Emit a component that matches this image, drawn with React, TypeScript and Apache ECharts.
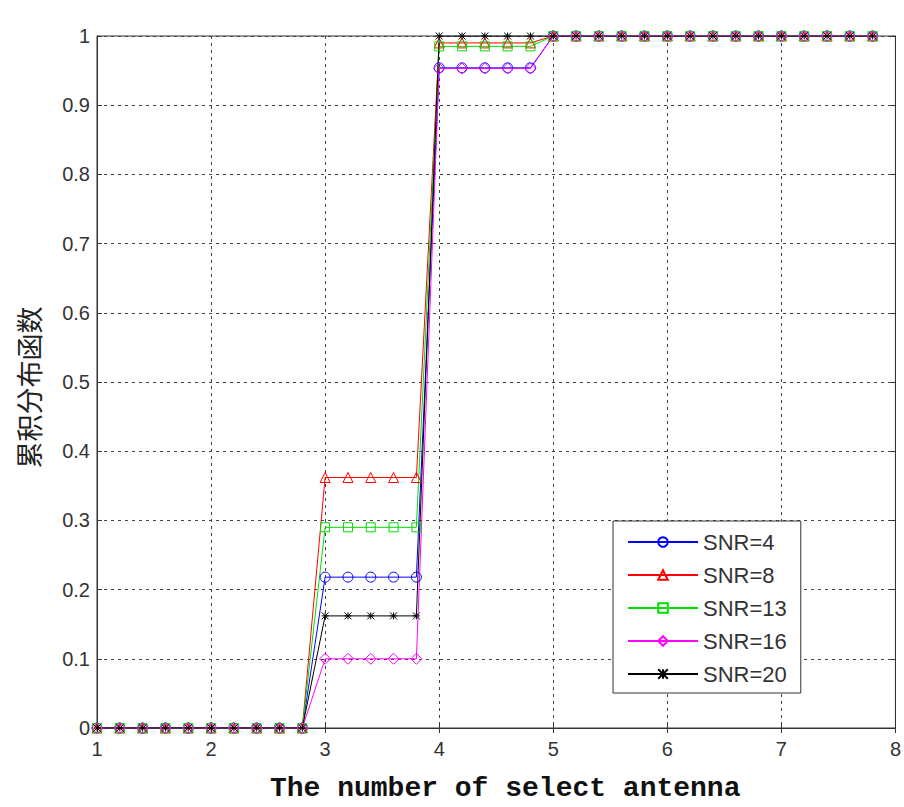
import React, { useEffect, useRef } from "react";
import * as echarts from "echarts";

const xValues = [
  1, 1.2, 1.4, 1.6, 1.8, 2, 2.2, 2.4, 2.6, 2.8,
  3, 3.2, 3.4, 3.6, 3.8,
  4, 4.2, 4.4, 4.6, 4.8,
  5, 5.2, 5.4, 5.6, 5.8, 6, 6.2, 6.4, 6.6, 6.8, 7, 7.2, 7.4, 7.6, 7.8,
];

const snr4 = [
  0, 0, 0, 0, 0, 0, 0, 0, 0, 0,
  0.218, 0.218, 0.218, 0.218, 0.218,
  0.954, 0.954, 0.954, 0.954, 0.954,
  1, 1, 1, 1, 1, 1, 1, 1, 1, 1, 1, 1, 1, 1, 1,
];
const snr8 = [
  0, 0, 0, 0, 0, 0, 0, 0, 0, 0,
  0.362, 0.362, 0.362, 0.362, 0.362,
  0.99, 0.99, 0.99, 0.99, 0.99,
  1, 1, 1, 1, 1, 1, 1, 1, 1, 1, 1, 1, 1, 1, 1,
];
const snr13 = [
  0, 0, 0, 0, 0, 0, 0, 0, 0, 0,
  0.29, 0.29, 0.29, 0.29, 0.29,
  0.985, 0.985, 0.985, 0.985, 0.985,
  1, 1, 1, 1, 1, 1, 1, 1, 1, 1, 1, 1, 1, 1, 1,
];
const snr16 = [
  0, 0, 0, 0, 0, 0, 0, 0, 0, 0,
  0.1, 0.1, 0.1, 0.1, 0.1,
  0.953, 0.953, 0.953, 0.953, 0.953,
  1, 1, 1, 1, 1, 1, 1, 1, 1, 1, 1, 1, 1, 1, 1,
];
const snr20 = [
  0, 0, 0, 0, 0, 0, 0, 0, 0, 0,
  0.162, 0.162, 0.162, 0.162, 0.162,
  1, 1, 1, 1, 1,
  1, 1, 1, 1, 1, 1, 1, 1, 1, 1, 1, 1, 1, 1, 1,
];

const seriesNames = ["SNR=4", "SNR=8", "SNR=13", "SNR=16", "SNR=20"];
const seriesValues = [snr4, snr8, snr13, snr16, snr20];
const seriesColors = ["#0000ff", "#ff0000", "#00dd00", "#ff00ff", "#000000"];
const seriesSymbols = [
  "circle",
  "triangle",
  "rect",
  "diamond",
  "path://M0 0L10 10M10 0L0 10M5 0L5 10M0 5L10 5",
];
const seriesSymbolSizes = [10, 10, 9, 11, 7];

const xTitle = "The number of select antenna";
const yTitle = "累积分布函数";

export default function App() {
  const ref = useRef<HTMLDivElement>(null);
  useEffect(() => {
    if (!ref.current) return;
    const chart = echarts.init(ref.current, undefined, { renderer: "svg" });
    const axisColor = "#333";
    const gridLine = { show: true, lineStyle: { color: "#444", type: [3, 4], width: 1 } };
    const series = seriesNames.map((name, i) => ({
      name,
      type: "line",
      data: xValues.map((x, j) => [x, seriesValues[i][j]]),
      symbol: seriesSymbols[i],
      symbolSize: seriesSymbolSizes[i],
      showSymbol: true,
      showAllSymbol: true,
      lineStyle: { color: seriesColors[i], width: 1 },
      itemStyle: { color: "rgba(255,255,255,0)", borderColor: seriesColors[i], borderWidth: 1 },
      emphasis: { disabled: true },
    }));
    chart.setOption({
      animation: false,
      grid: { left: 97, right: 5, top: 36, bottom: 66, show: true, borderColor: axisColor, borderWidth: 1 },
      legend: {
        orient: "vertical",
        left: 613,
        top: 521,
        data: seriesNames,
        itemWidth: 70,
        itemHeight: 12,
        itemGap: 11,
        padding: [10, 14, 8, 14],
        borderColor: "#333",
        borderWidth: 1,
        backgroundColor: "#fff",
        textStyle: { fontSize: 22, fontFamily: "Liberation Sans, Arial", color: "#333" },
      },
      xAxis: [
        {
          type: "value",
          min: 1,
          max: 8,
          interval: 1,
          name: xTitle,
          nameLocation: "middle",
          nameGap: 46,
          nameTextStyle: {
            fontSize: 28,
            fontFamily: "Liberation Mono",
            fontWeight: "bold",
            color: "#111",
            padding: [0, 0, 0, 18],
          },
          axisLine: { show: true, lineStyle: { color: axisColor } },
          axisTick: { show: true, inside: true, length: 5, lineStyle: { color: axisColor } },
          axisLabel: { fontSize: 20, color: "#333", fontFamily: "Liberation Sans, Arial", margin: 11 },
          splitLine: gridLine,
        },
        {
          type: "value",
          position: "top",
          min: 1,
          max: 8,
          interval: 1,
          axisLine: { show: true, lineStyle: { color: axisColor } },
          axisTick: { show: true, inside: true, length: 5, lineStyle: { color: axisColor } },
          axisLabel: { show: false },
          splitLine: { show: false },
        },
      ],
      yAxis: [
        {
          type: "value",
          min: 0,
          max: 1,
          interval: 0.1,
          name: yTitle,
          nameLocation: "middle",
          nameGap: 55,
          nameRotate: 90,
          nameTextStyle: {
            fontSize: 27,
            fontFamily: "Noto Sans CJK SC",
            color: "#222",
            padding: [0, 11, 0, 0],
          },
          axisLine: { show: true, lineStyle: { color: axisColor } },
          axisTick: { show: true, inside: true, length: 5, lineStyle: { color: axisColor } },
          axisLabel: {
            fontSize: 20,
            color: "#333",
            fontFamily: "Liberation Sans, Arial",
            margin: 7,
            formatter: (v: number) => String(Math.round(v * 10) / 10),
          },
          splitLine: gridLine,
        },
        {
          type: "value",
          position: "right",
          min: 0,
          max: 1,
          interval: 0.1,
          axisLine: { show: true, lineStyle: { color: axisColor } },
          axisTick: { show: true, inside: true, length: 5, lineStyle: { color: axisColor } },
          axisLabel: { show: false },
          splitLine: { show: false },
        },
      ],
      series,
    });
    return () => chart.dispose();
  }, []);
  return (
    <div
      ref={ref}
      style={{ position: "fixed", left: 0, top: 0, width: 904, height: 807, background: "#fff" }}
    />
  );
}
